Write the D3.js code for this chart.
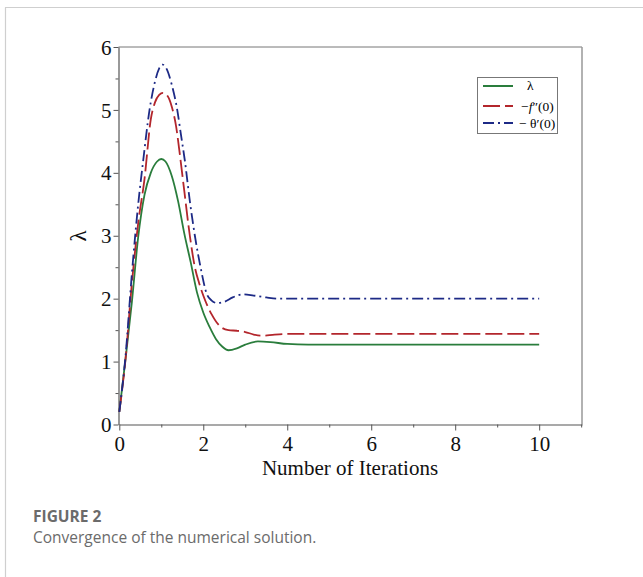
<!DOCTYPE html>
<html>
<head>
<meta charset="utf-8">
<script src="https://cdn.jsdelivr.net/npm/d3@7"></script>
<style>
  body { margin: 0; background: #fff; }
  svg { display: block; }
</style>
</head>
<body>
<svg id="chart" width="643" height="577"></svg>
<script>
// iteration values
var lambdaX = [0, 0.15, 0.3, 0.45, 0.6, 0.75, 0.9, 1.0, 1.1, 1.25, 1.4, 1.55, 1.7, 1.85, 2.0, 2.15, 2.3, 2.45, 2.6, 2.8, 3.0, 3.3, 3.6, 4.0, 4.5, 5, 6, 7, 8, 9, 10];
var lambdaY = [0.2, 1.05, 1.95, 2.98, 3.65, 4.0, 4.18, 4.22, 4.18, 3.95, 3.55, 3.03, 2.58, 2.1, 1.78, 1.55, 1.36, 1.24, 1.18, 1.21, 1.27, 1.32, 1.31, 1.28, 1.27, 1.27, 1.27, 1.27, 1.27, 1.27, 1.27];

var fppX = [0, 0.15, 0.3, 0.45, 0.6, 0.75, 0.85, 0.95, 1.04, 1.15, 1.25, 1.35, 1.45, 1.55, 1.68, 1.8, 1.9, 2.0, 2.2, 2.4, 2.6, 2.8, 3.0, 3.2, 3.4, 3.7, 4.0, 5, 6, 7, 8, 9, 10];
var fppY = [0.2, 1.05, 2.25, 3.2, 3.9, 4.85, 5.12, 5.24, 5.27, 5.22, 5.05, 4.75, 4.25, 3.7, 3.0, 2.5, 2.25, 2.05, 1.75, 1.56, 1.5, 1.49, 1.47, 1.43, 1.41, 1.43, 1.44, 1.44, 1.44, 1.44, 1.44, 1.44, 1.44];

var thetaX = [0, 0.15, 0.3, 0.45, 0.57, 0.72, 0.85, 0.95, 1.03, 1.12, 1.25, 1.38, 1.47, 1.56, 1.68, 1.8, 1.95, 2.08, 2.2, 2.33, 2.5, 2.7, 2.95, 3.2, 3.5, 3.8, 4.5, 5, 6, 7, 8, 9, 10];
var thetaY = [0.2, 1.1, 2.4, 3.5, 4.2, 5.0, 5.45, 5.66, 5.72, 5.66, 5.4, 5.0, 4.6, 4.2, 3.55, 3.0, 2.45, 2.08, 1.97, 1.93, 1.95, 2.02, 2.07, 2.05, 2.02, 2.0, 2.0, 2.0, 2.0, 2.0, 2.0, 2.0, 2.0];

var xTicks = [0, 2, 4, 6, 8, 10];
var xMinor = [1, 3, 5, 7, 9, 11];
var yTicks = [0, 1, 2, 3, 4, 5, 6];
var yMinor = [0.5, 1.5, 2.5, 3.5, 4.5, 5.5];

var seriesNames = ["λ", "−f″(0)", "− θ′(0)"];

function drawChart() {
  var svg = d3.select("svg#chart");

  // page frame
  svg.append("line").attr("x1", 5).attr("y1", 7.5).attr("x2", 643).attr("y2", 7.5)
     .style("stroke", "#cfcfcf").style("stroke-width", 1.2);
  svg.append("line").attr("x1", 5.5).attr("y1", 7.5).attr("x2", 5.5).attr("y2", 577)
     .style("stroke", "#cfcfcf").style("stroke-width", 1.2);

  var plotLeft = 118.5, plotRight = 582, plotTop = 47, plotBottom = 424.5;
  var x = d3.scaleLinear().domain([0, 11.02]).range([plotLeft + 0.8, plotRight]);
  var y = d3.scaleLinear().domain([0, 6]).range([plotBottom, plotTop]);

  var serif = "'Liberation Serif', 'Times New Roman', serif";
  var axisColor = "#555";

  // frame of plot
  svg.append("line").attr("x1", plotLeft).attr("y1", plotTop).attr("x2", plotRight).attr("y2", plotTop)
     .style("stroke", "#777").style("stroke-width", 1);
  svg.append("line").attr("x1", plotRight).attr("y1", plotTop).attr("x2", plotRight).attr("y2", plotBottom)
     .style("stroke", "#999").style("stroke-width", 1.5);

  // axes
  var xAxis = svg.append("g").attr("transform", "translate(0," + plotBottom + ")")
    .call(d3.axisBottom(x).tickValues(xTicks).tickFormat(d3.format("d")).tickSize(6).tickSizeOuter(0));
  svg.append("g").attr("transform", "translate(0," + plotBottom + ")")
    .call(d3.axisBottom(x).tickValues(xMinor).tickSize(3).tickFormat("").tickSizeOuter(0))
    .select(".domain").remove();

  var yAxis = svg.append("g").attr("transform", "translate(" + plotLeft + ",0)")
    .call(d3.axisLeft(y).tickValues(yTicks).tickFormat(d3.format("d")).tickSize(5).tickSizeOuter(0));
  svg.append("g").attr("transform", "translate(" + plotLeft + ",0)")
    .call(d3.axisLeft(y).tickValues(yMinor).tickSize(3).tickFormat("").tickSizeOuter(0))
    .select(".domain").remove();

  svg.selectAll(".domain").style("stroke", axisColor).style("stroke-width", 1.2);
  svg.selectAll(".tick line").style("stroke", axisColor);
  svg.selectAll(".tick text")
     .style("font-family", serif).style("font-size", "21px").style("fill", "#111");
  xAxis.selectAll(".tick text").attr("dy", "0.95em").attr("y", 7);
  yAxis.selectAll(".tick text").attr("x", -7).attr("dy", "0.34em");

  // axis titles
  svg.append("text").attr("x", 350).attr("y", 475)
     .attr("text-anchor", "middle")
     .style("font-family", serif).style("font-size", "21px").style("fill", "#111")
     .text("Number of Iterations");
  svg.append("text")
     .attr("transform", "translate(86,236) rotate(-90)")
     .attr("text-anchor", "middle")
     .style("font-family", serif).style("font-size", "23px").style("fill", "#111")
     .text("λ");

  // curves
  var line = d3.line()
    .x(function(d) { return x(d[0]); })
    .y(function(d) { return y(d[1]); })
    .curve(d3.curveMonotoneX);

  var series = [
    { xs: lambdaX, ys: lambdaY, color: "#2a7d3c", dash: null },
    { xs: fppX, ys: fppY, color: "#b3262c", dash: "17,5" },
    { xs: thetaX, ys: thetaY, color: "#1d2a86", dash: "11,4,2,4" }
  ];

  series.forEach(function(s) {
    var pts = s.xs.map(function(v, i) { return [v, s.ys[i]]; });
    svg.append("path")
       .datum(pts)
       .attr("d", line)
       .attr("fill", "none")
       .style("stroke", s.color)
       .style("stroke-width", 1.8)
       .style("stroke-dasharray", s.dash);
  });

  // legend
  var legend = svg.append("g");
  legend.append("rect").attr("x", 477.5).attr("y", 77.5).attr("width", 80).attr("height", 56)
     .attr("fill", "#fff").style("stroke", "#777").style("stroke-width", 1);
  var legendY = [86, 106, 123];
  series.forEach(function(s, i) {
    legend.append("line")
       .attr("x1", 483).attr("x2", 513).attr("y1", legendY[i]).attr("y2", legendY[i])
       .style("stroke", s.color).style("stroke-width", 2)
       .style("stroke-dasharray", s.dash);
  });
  var lf = "13.5px";
  legend.append("text").attr("x", 527).attr("y", legendY[0] + 4)
     .style("font-family", serif).style("font-size", lf).text(seriesNames[0]);
  var t2 = legend.append("text").attr("x", 521).attr("y", legendY[1] + 5)
     .style("font-family", serif).style("font-size", lf);
  t2.append("tspan").text("−");
  t2.append("tspan").style("font-style", "italic").text("f");
  t2.append("tspan").text("″(0)");
  legend.append("text").attr("x", 519).attr("y", legendY[2] + 5)
     .style("font-family", serif).style("font-size", lf).text(seriesNames[2]);

  // caption
  svg.append("text").attr("x", 33).attr("y", 522)
     .style("font-family", "'Open Sans', sans-serif").style("font-weight", "bold")
     .style("font-size", "15.5px").style("fill", "#6b6b6b").text("FIGURE 2");
  svg.append("text").attr("x", 33).attr("y", 543)
     .style("font-family", "'Open Sans', sans-serif")
     .style("font-size", "15.5px").style("fill", "#6b6b6b").text("Convergence of the numerical solution.");
}

drawChart();
</script>
</body>
</html>
